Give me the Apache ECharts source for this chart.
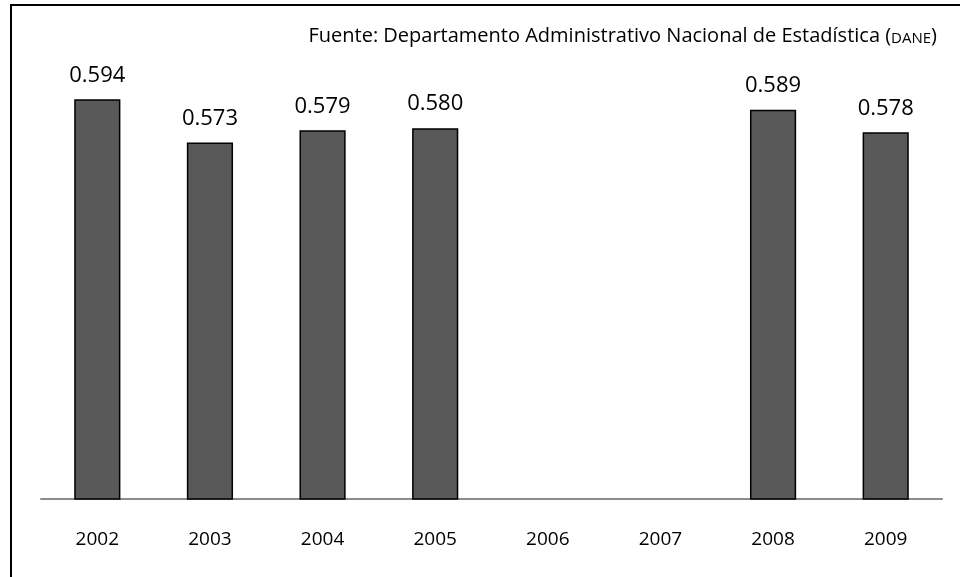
<!DOCTYPE html>
<html><head><meta charset="utf-8">
<script src="https://cdn.jsdelivr.net/npm/echarts@6/dist/echarts.min.js"></script>
<style>html,body{margin:0;padding:0;background:#fff}#c{width:960px;height:577px}</style>
</head><body><div id="c"></div>
<script>
const years = ['2002','2003','2004','2005','2006','2007','2008','2009'];
const values = [0.594, 0.573, 0.579, 0.580, null, null, 0.589, 0.578];
const sourceText = 'Fuente: Departamento Administrativo Nacional de Estadística ';
const sourceAbbr = 'DANE';

const chart = echarts.init(document.getElementById('c'));
chart.setOption({
  animation: false,
  backgroundColor: '#fff',
  graphic: [{
    type: 'rect', silent: true,
    shape: {x: 11, y: 5, width: 1200, height: 1200},
    style: {fill: 'none', stroke: '#000', lineWidth: 2}
  }],
  title: {
    text: '{a|' + sourceText + '(}{b|' + sourceAbbr + '}{a|)}',
    right: 18, top: 17,
    textStyle: {
      fontWeight: 'normal',
      rich: {
        a: {fontFamily: 'Open Sans', fontSize: 20, lineHeight: 24, fontWeight: 'normal', color: '#000', verticalAlign: 'bottom'},
        b: {fontFamily: 'Open Sans', fontSize: 15, lineHeight: 19, fontWeight: 'normal', color: '#000', verticalAlign: 'bottom'}
      }
    }
  },
  grid: {left: 41, right: 18, top: 87, bottom: 78},
  xAxis: {
    type: 'category', data: years,
    axisLine: {lineStyle: {color: '#8c8c8c', width: 2}},
    axisTick: {show: false},
    axisLabel: {fontFamily: 'Open Sans', fontSize: 19, color: '#000', margin: 31, lineHeight: 20}
  },
  yAxis: {
    type: 'value', min: 0.4, max: 0.6, show: false,
    splitLine: {show: false}
  },
  series: [{
    type: 'bar', data: values, barWidth: '41%',
    itemStyle: {color: '#595959', borderColor: '#000', borderWidth: 1.5},
    label: {
      show: true, position: 'top', distance: 13,
      fontFamily: 'Open Sans', fontSize: 22, color: '#000',
      formatter: p => p.value.toFixed(3)
    }
  }]
});
</script></body></html>
